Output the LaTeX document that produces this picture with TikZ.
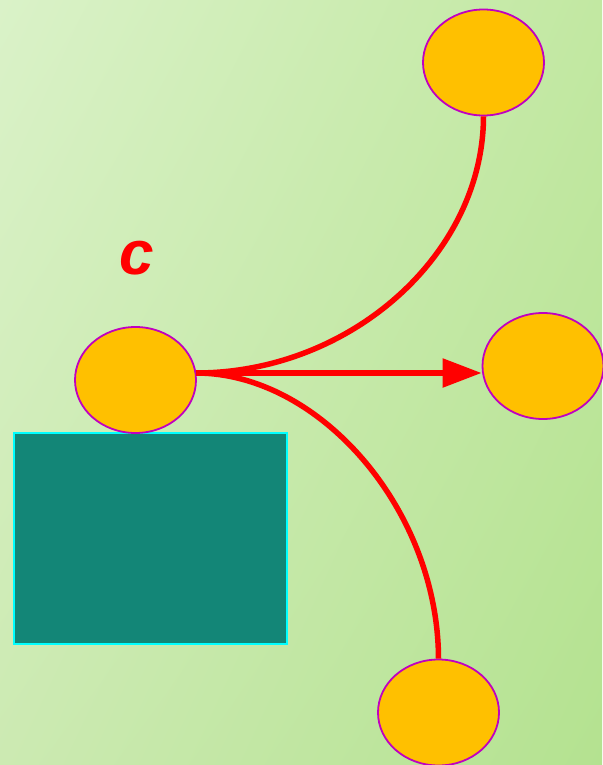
\documentclass[tikz,border=0pt]{standalone}
\usepackage{fontspec}
\setsansfont{Liberation Sans}
\usetikzlibrary{arrows.meta,shapes.geometric,shadings}

\definecolor{bgtl}{HTML}{DAF2C8}
\definecolor{bgtr}{HTML}{C2E8A2}
\definecolor{bgbl}{HTML}{CCEAB2}
\definecolor{bgbr}{HTML}{B4E290}
\definecolor{ballfill}{HTML}{FFC000}
\definecolor{balledge}{HTML}{C000C0}
\definecolor{boxfill}{HTML}{138677}
\definecolor{boxedge}{HTML}{00FFFF}

\tikzset{
  ball/.style={ellipse, draw=balledge, line width=1.8pt, fill=ballfill,
    minimum width=121pt, minimum height=106pt, inner sep=0pt},
  link/.style={red, line width=5.5pt},
}

\begin{document}
\begin{tikzpicture}[x=1pt, y=-1pt, >={Triangle[length=39pt, width=28pt]}]
    % Background with a soft diagonal gradient
    \useasboundingbox (0,0) rectangle (602,765);
    \shade[upper left=bgtl, upper right=bgtr, lower left=bgbl, lower right=bgbr]
      (0,0) rectangle (602,765);

    % Block under the source ball
    \draw[boxedge, line width=1.8pt, fill=boxfill] (14,433) rectangle (287,644);

    % The four balls
    \node[ball] (src) at (135.5,380) {};
    \node[ball] (up) at (483.5,62.5) {};
    \node[ball] (side) at (543,366) {};
    \node[ball] (down) at (438.5,712.5) {};

    % Label above the source ball
    \node[red, font=\sffamily\bfseries\itshape\fontsize{62}{62}\selectfont] (lbl) at (137,258) {c};

    % Where the three paths leave the source ball
    \coordinate (fork) at (196,373);

    % Curved paths up and down
    \draw[link] (fork) .. controls (350,373) and (483,255) .. (up.south);
    \draw[link] (fork) .. controls (320,373) and (438,510) .. (down.north);

    % Straight arrow to the right
    \draw[link, ->] (fork) -- (side.west |- fork);
\end{tikzpicture}
\end{document}
